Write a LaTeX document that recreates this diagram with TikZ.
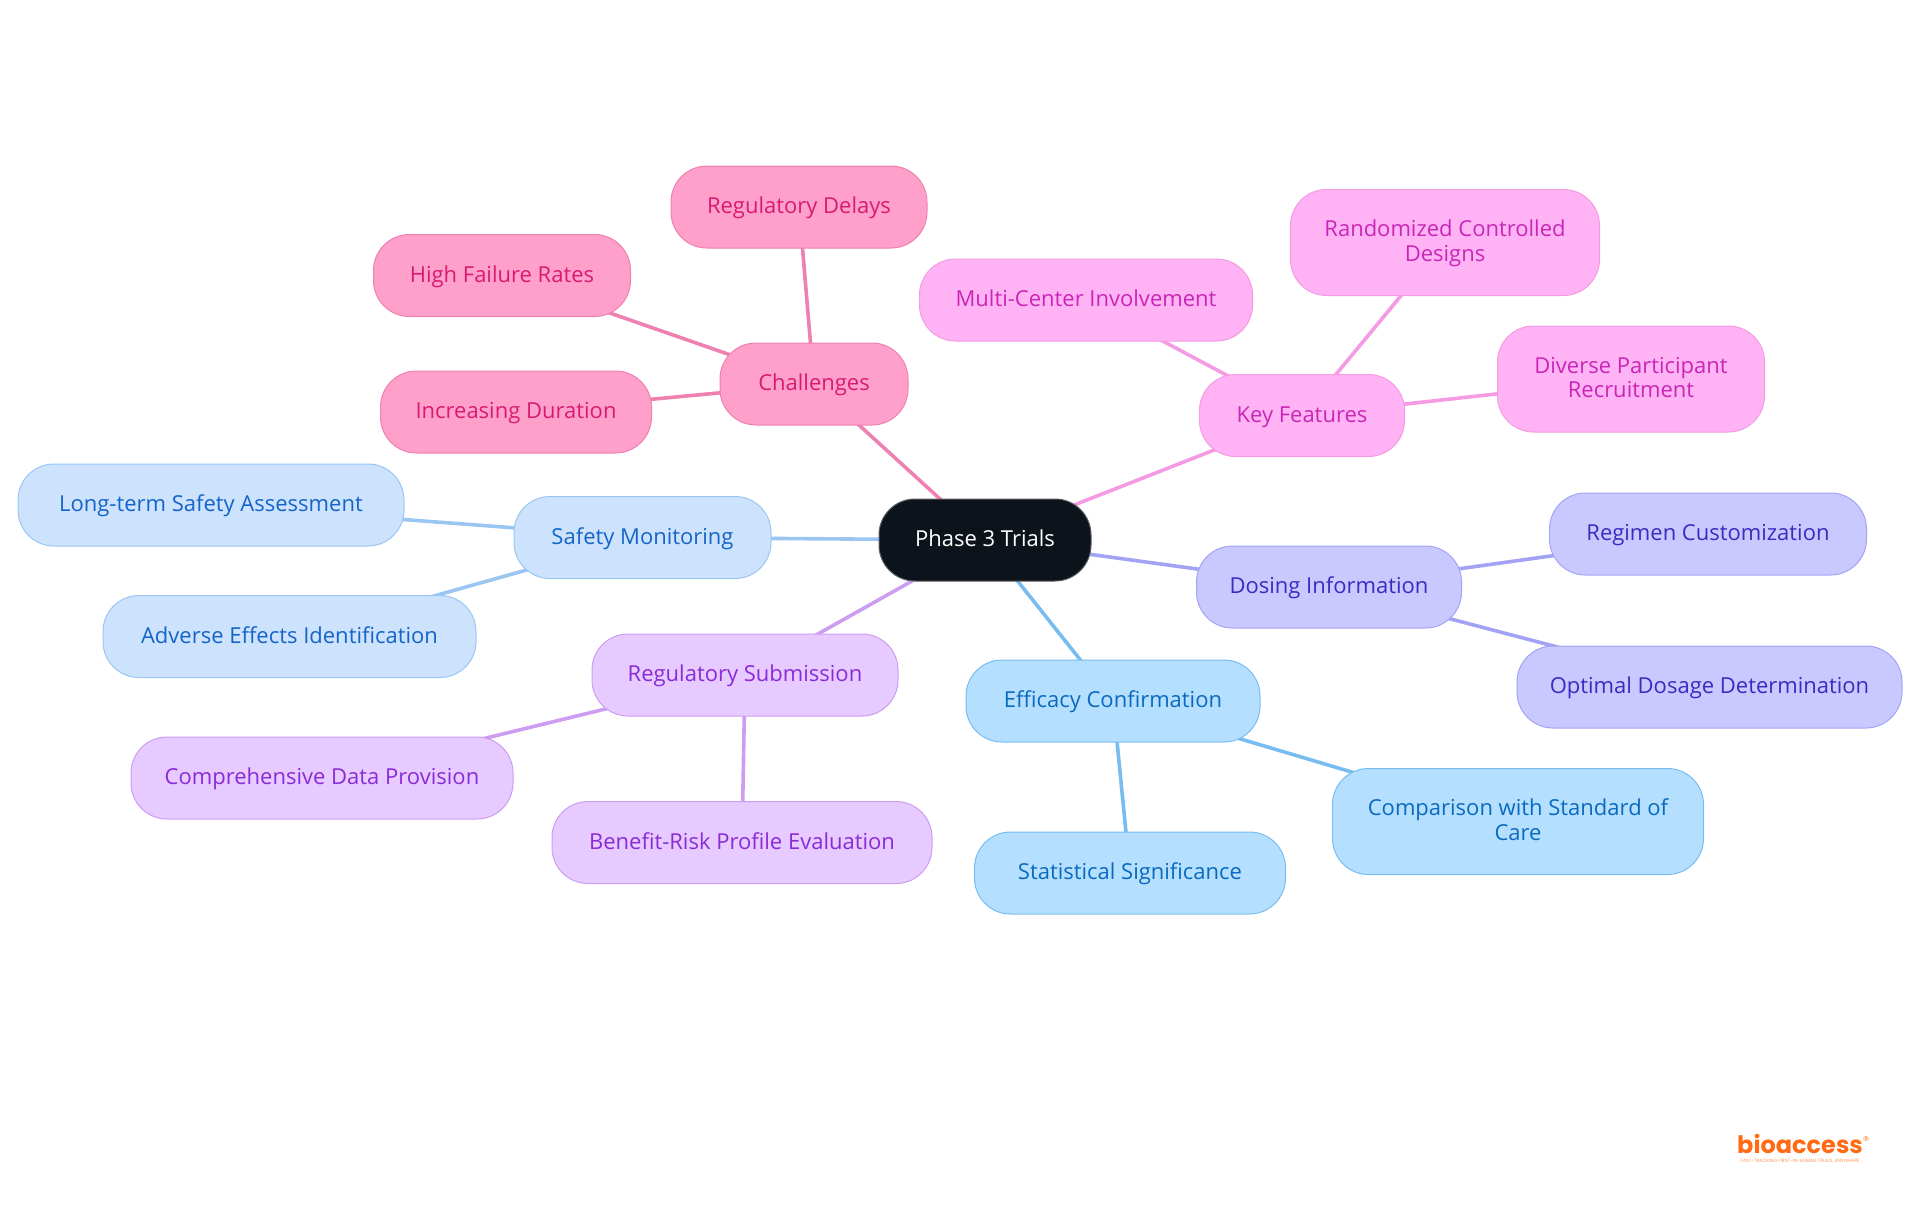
\documentclass[tikz,border=0pt]{standalone}
\usepackage{fontspec}
\setmainfont{Open Sans}
\newfontfamily\logofont{Poppins}
\newfontfamily\symfont{DejaVu Sans}
\usetikzlibrary{backgrounds}
\definecolor{rootfill}{HTML}{0D131B}
\definecolor{rootline}{HTML}{5A5E63}
\definecolor{chF}{HTML}{FFA0CA}\definecolor{chL}{HTML}{EE80B2}\definecolor{chT}{HTML}{D81B72}
\definecolor{kfF}{HTML}{FFB3F5}\definecolor{kfL}{HTML}{F49BE4}\definecolor{kfT}{HTML}{C926B8}
\definecolor{doF}{HTML}{C9C9FF}\definecolor{doL}{HTML}{A3A3F5}\definecolor{doT}{HTML}{3B2BC0}
\definecolor{efF}{HTML}{B5DFFF}\definecolor{efL}{HTML}{78BDF0}\definecolor{efT}{HTML}{0A6ABF}
\definecolor{rsF}{HTML}{E7CAFF}\definecolor{rsL}{HTML}{CC9DF0}\definecolor{rsT}{HTML}{8A2BD8}
\definecolor{smF}{HTML}{CCE2FD}\definecolor{smL}{HTML}{9CC6F2}\definecolor{smT}{HTML}{1565C8}
\definecolor{logoC}{HTML}{FF6A13}
\tikzset{
 x=1pt,y=-1pt,
 pill/.style={rounded corners=36pt,minimum height=82pt,inner sep=0pt,align=center,line width=1pt,
   text height=17pt,text depth=4pt,
   font=\fontsize{22}{24.5}\selectfont},
 tall/.style={minimum height=106pt,text height=41.5pt},
 root/.style={pill,fill=rootfill,draw=rootline,text=white},
 ch/.style={pill,fill=chF,draw=chL,text=chT},
 kf/.style={pill,fill=kfF,draw=kfL,text=kfT},
 do/.style={pill,fill=doF,draw=doL,text=doT},
 ef/.style={pill,fill=efF,draw=efL,text=efT},
 rs/.style={pill,fill=rsF,draw=rsL,text=rsT},
 sm/.style={pill,fill=smF,draw=smL,text=smT},
 link/.style={line width=3.6pt},
}
\begin{document}
\begin{tikzpicture}
\useasboundingbox (0,0) rectangle (1920,1215);
\node[root,minimum width=212pt] (r) at (985,540) {Phase 3 Trials};
\node[ch,minimum width=188pt] (c0) at (814,384) {Challenges};
\node[ch,minimum width=256pt] (c1) at (799,207) {Regulatory Delays};
\node[ch,minimum width=257pt] (c2) at (502,275.5) {High Failure Rates};
\node[ch,minimum width=271pt] (c3) at (516,412) {Increasing Duration};
\node[kf,minimum width=205pt] (k0) at (1302,415.5) {Key Features};
\node[kf,minimum width=333pt] (k1) at (1086,300) {Multi-Center Involvement};
\node[kf,tall,minimum width=309pt] (k2) at (1445,242.5) {Randomized Controlled\\Designs};
\node[kf,tall,minimum width=267pt] (k3) at (1631,379) {Diverse Participant\\Recruitment};
\node[do,minimum width=265pt] (d0) at (1329,587) {Dosing Information};
\node[do,minimum width=317pt] (d1) at (1708,534) {Regimen Customization};
\node[do,minimum width=385pt] (d2) at (1709.5,687) {Optimal Dosage Determination};
\node[ef,minimum width=294pt] (e0) at (1113,701) {Efficacy Confirmation};
\node[ef,tall,minimum width=371pt] (e1) at (1518,821.5) {Comparison with Standard of\\Care};
\node[ef,minimum width=311pt] (e2) at (1130,873) {Statistical Significance};
\node[rs,minimum width=306pt] (s0) at (745,675) {Regulatory Submission};
\node[rs,minimum width=382pt] (s1) at (322,778) {Comprehensive Data Provision};
\node[rs,minimum width=380pt] (s2) at (742,842.5) {Benefit-Risk Profile Evaluation};
\node[sm,minimum width=257pt] (m0) at (642.5,537.5) {Safety Monitoring};
\node[sm,minimum width=386pt] (m1) at (211,505) {Long-term Safety Assessment};
\node[sm,minimum width=373pt] (m2) at (289.5,636.5) {Adverse Effects Identification};
\begin{pgfonlayer}{background}
\draw[link,chL] (r.center)--(c0.center) (c0.center)--(c1.center) (c0.center)--(c2.center) (c0.center)--(c3.center);
\draw[link,kfL] (r.center)--(k0.center) (k0.center)--(k1.center) (k0.center)--(k2.center) (k0.center)--(k3.center);
\draw[link,doL] (r.center)--(d0.center) (d0.center)--(d1.center) (d0.center)--(d2.center);
\draw[link,efL] (r.center)--(e0.center) (e0.center)--(e1.center) (e0.center)--(e2.center);
\draw[link,rsL] (r.center)--(s0.center) (s0.center)--(s1.center) (s0.center)--(s2.center);
\draw[link,smL] (r.center)--(m0.center) (m0.center)--(m1.center) (m0.center)--(m2.center);
\end{pgfonlayer}
\node[inner sep=0pt,anchor=center,text=logoC,font=\logofont\bfseries\fontsize{24}{24}\selectfont] (logo) at (1800,1144) {bioaccess};
\node[inner sep=0pt,anchor=center,text=logoC,font=\symfont\fontsize{7}{7}\selectfont] (reg) at (1866,1139) {®};
\node[inner sep=0pt,anchor=center,text=logoC!70,font=\logofont\fontsize{4.7}{5}\selectfont] (tag) at (1800,1161) {FAST-TRACKING FIRST-IN-HUMAN TRIALS, ANYWHERE};
\end{tikzpicture}
\end{document}
